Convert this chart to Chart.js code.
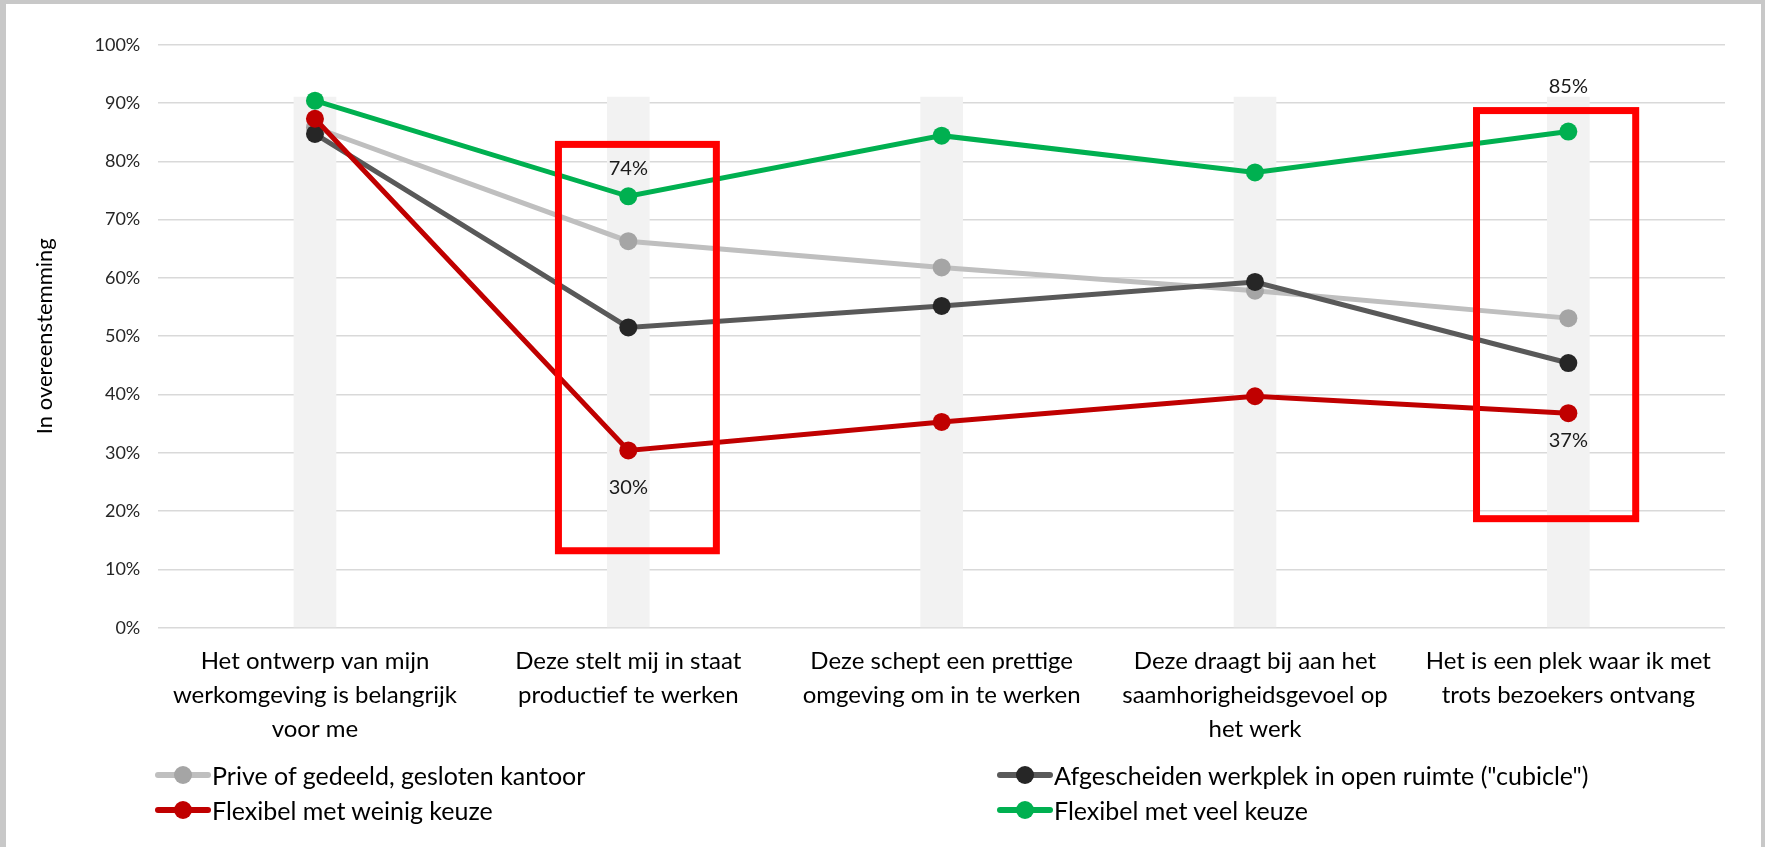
<!DOCTYPE html>
<html>
<head>
<meta charset="utf-8">
<script src="https://cdn.jsdelivr.net/npm/chart.js@4.4.1/dist/chart.umd.min.js"></script>
<style>
  html, body { margin: 0; padding: 0; background: #c8c8c8; overflow: hidden; }
  #frame { position: absolute; left: 6px; top: 4px; width: 1755px; height: 843px; background: #fff; }
  #mychart { position: absolute; left: 0; top: 0; }
  #legend { position: absolute; left: 0; top: 0; width: 100%; height: 100%; pointer-events: none;
            font-family: Lato, sans-serif; font-size: 25px; color: #000; }
  .item { position: absolute; display: flex; align-items: center; height: 30px; white-space: nowrap; }
  .sym { position: relative; width: 56px; height: 18px; margin-right: 1px; }
  .sym .ln { position: absolute; left: 0; right: 0; top: 6px; height: 6px; border-radius: 3px; }
  .sym .dot { position: absolute; left: 19px; top: 0; width: 18px; height: 18px; border-radius: 50%; }
</style>
</head>
<body>
<div id="frame">
  <canvas id="mychart" width="1755" height="843"></canvas>
  <div id="legend"></div>
</div>
<script>
// categorieën (x-as), al in regels gesplitst zoals in het origineel
const categories = [
    ['Het ontwerp van mijn', 'werkomgeving is belangrijk', 'voor me'],
    ['Deze stelt mij in staat', 'productief te werken'],
    ['Deze schept een prettige', 'omgeving om in te werken'],
    ['Deze draagt bij aan het', 'saamhorigheidsgevoel op', 'het werk'],
    ['Het is een plek waar ik met', 'trots bezoekers ontvang']
];

const seriesNames = [
    'Prive of gedeeld, gesloten kantoor',
    'Afgescheiden werkplek in open ruimte ("cubicle")',
    'Flexibel met weinig keuze',
    'Flexibel met veel keuze'
];

// percentages in overeenstemming
const priveKantoor = [85.8, 66.3, 61.8, 57.8, 53.1];
const cubicle      = [84.7, 51.5, 55.2, 59.3, 45.4];
const weinigKeuze  = [87.3, 30.4, 35.3, 39.7, 36.8];
const veelKeuze    = [90.4, 74.0, 84.4, 78.1, 85.1];

// grijze achtergrondbalken per categorie
const bandValues = [91, 91, 91, 91, 91];

const lineColors   = ['#bfbfbf', '#595959', '#c00000', '#00b050'];
const markerColors = ['#a5a5a5', '#262626', '#c00000', '#00b050'];

const makeLine = (idx, values) => ({
    type: 'line',
    label: seriesNames[idx],
    data: values,
    borderColor: lineColors[idx],
    borderWidth: 5,
    pointRadius: 9,
    pointHoverRadius: 9,
    pointBackgroundColor: markerColors[idx],
    pointBorderWidth: 0,
    tension: 0,
    order: 4 - idx,
});

// rode kaders + labels
const highlightPlugin = {
    id: 'highlight',
    afterDatasetsDraw(chart, args, opts) {
        const ctx = chart.ctx;
        const xs = chart.scales.x, ys = chart.scales.y;
        const step = xs.getPixelForValue(1) - xs.getPixelForValue(0);
        const x0px = xs.getPixelForValue(0);
        ctx.save();
        ctx.strokeStyle = '#ff0000';
        ctx.lineWidth = 7;
        opts.boxes.forEach(b => {
            const l = x0px + b.x0 * step, r = x0px + b.x1 * step;
            const t = ys.getPixelForValue(b.y1), btm = ys.getPixelForValue(b.y0);
            ctx.strokeRect(l, t, r - l, btm - t);
        });
        ctx.font = '20px Lato';
        ctx.fillStyle = '#1a1a1a';
        ctx.textAlign = 'center';
        ctx.textBaseline = 'middle';
        opts.labels.forEach(it => {
            const el = chart.getDatasetMeta(it.ds).data[it.i];
            const v = chart.data.datasets[it.ds].data[it.i];
            ctx.fillText(Math.round(v) + '%', el.x, el.y + it.dy);
        });
        ctx.restore();
    }
};

const data = {
    labels: categories,
    datasets: [
        {
            type: 'bar',
            label: 'band',
            data: bandValues,
            backgroundColor: '#f2f2f2',
            barThickness: 42,
            order: 10,
        },
        makeLine(0, priveKantoor),
        makeLine(1, cubicle),
        makeLine(2, weinigKeuze),
        makeLine(3, veelKeuze),
    ]
};

const config = {
    type: 'bar',
    data: data,
    plugins: [highlightPlugin],
    options: {
        responsive: false,
        animation: false,
        layout: { padding: { left: 20, top: 40.7, right: 36, bottom: 0 } },
        plugins: {
            legend: { display: false },
            tooltip: { enabled: false },
            highlight: {
                boxes: [
                    { x0: 0.777, x1: 1.281, y0: 13.2, y1: 82.9 },
                    { x0: 3.707, x1: 4.215, y0: 18.7, y1: 88.7 },
                ],
                labels: [
                    { ds: 4, i: 1, dy: -28 },
                    { ds: 3, i: 1, dy: 37 },
                    { ds: 4, i: 4, dy: -45 },
                    { ds: 3, i: 4, dy: 27 },
                ]
            }
        },
        scales: {
            x: {
                grid: { display: false, drawTicks: false },
                border: { display: false },
                ticks: {
                    autoSkip: false,
                    maxRotation: 0,
                    padding: 17,
                    color: '#000',
                    font: { family: 'Lato', size: 24, lineHeight: 1.417 },
                },
                afterFit: (s) => { s.height = 219.3; },
            },
            y: {
                min: 0,
                max: 100,
                grid: { color: '#d9d9d9', lineWidth: 1.5, drawTicks: false },
                border: { display: false },
                ticks: {
                    stepSize: 10,
                    padding: 18,
                    color: '#262626',
                    font: { family: 'Lato', size: 18 },
                    callback: (v) => v + '%',
                },
                title: {
                    display: true,
                    text: 'In overeenstemming',
                    color: '#000',
                    font: { family: 'Lato', size: 22 },
                    padding: { top: 6, bottom: 0 },
                },
                afterFit: (s) => { s.width = 132.3; },
            }
        }
    }
};

const ctx = document.getElementById('mychart').getContext('2d');
new Chart(ctx, config);

// legenda in twee kolommen
const legend = document.getElementById('legend');
const legendCols = [149, 991];
const legendRows = [771, 806];
seriesNames.forEach((name, i) => {
    const item = document.createElement('div');
    item.className = 'item';
    item.style.left = legendCols[i % 2] + 'px';
    item.style.top = (legendRows[Math.floor(i / 2)] - 15) + 'px';
    const sym = document.createElement('div');
    sym.className = 'sym';
    sym.innerHTML = '<div class="ln" style="background:' + lineColors[i] + '"></div>' +
                    '<div class="dot" style="background:' + markerColors[i] + '"></div>';
    const txt = document.createElement('span');
    txt.textContent = name;
    item.appendChild(sym);
    item.appendChild(txt);
    legend.appendChild(item);
});
</script>
</body>
</html>
